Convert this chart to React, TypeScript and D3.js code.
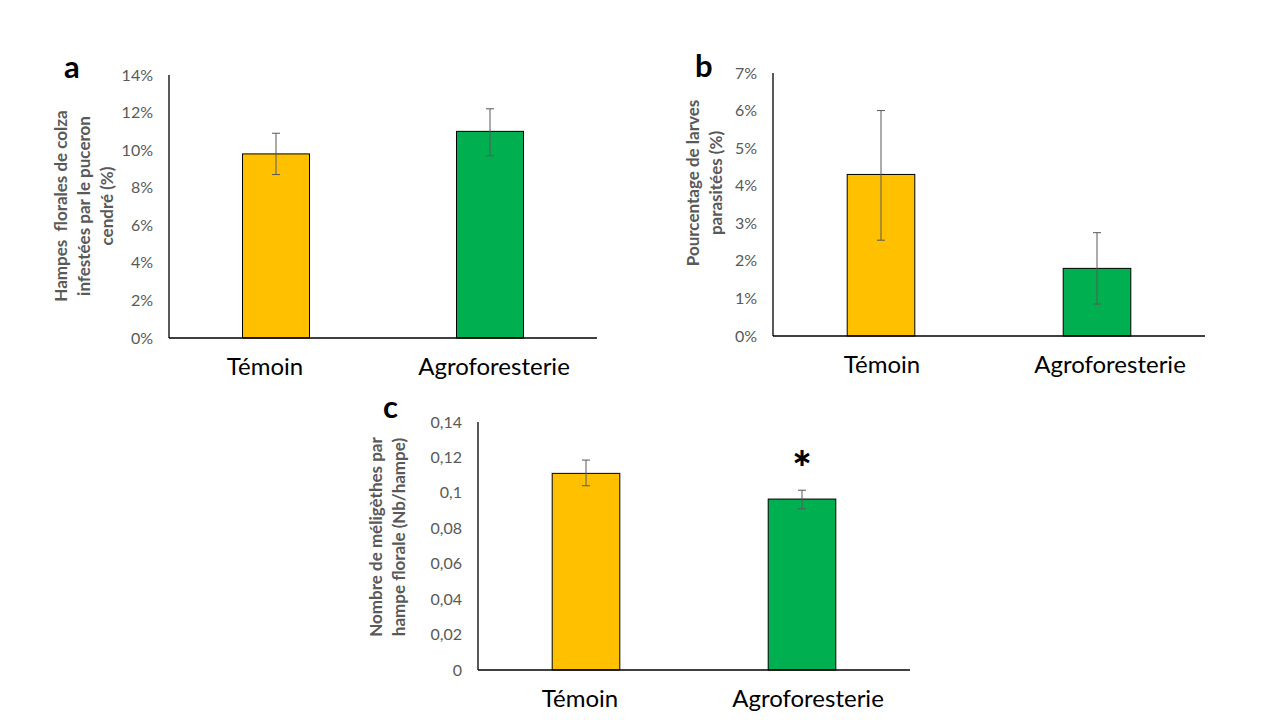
import React from "react";
import * as d3 from "d3";

const categories = ["Témoin", "Agroforesterie"];
const colors = ["#FFC000", "#00B050"];

const aValues = [0.098, 0.11];
const aLow = [0.087, 0.097];
const aHigh = [0.109, 0.122];
const aTicks = [0, 0.02, 0.04, 0.06, 0.08, 0.1, 0.12, 0.14];

const bValues = [0.043, 0.018];
const bLow = [0.0255, 0.0085];
const bHigh = [0.06, 0.0275];
const bTicks = [0, 0.01, 0.02, 0.03, 0.04, 0.05, 0.06, 0.07];

const cValues = [0.111, 0.0965];
const cLow = [0.104, 0.091];
const cHigh = [0.1185, 0.1015];
const cTicks = [0, 0.02, 0.04, 0.06, 0.08, 0.1, 0.12, 0.14];

const FONT = "Lato, 'Open Sans', sans-serif";
const GRAY = "#595959";

type PanelProps = {
  letter: string;
  letterX: number;
  letterY: number;
  x0: number;
  x1: number;
  yTop: number;
  yBottom: number;
  max: number;
  ticks: number[];
  fmt: (v: number) => string;
  values: number[];
  low: number[];
  high: number[];
  titleLines: string[];
  titleX: number;
  titleY: number;
  labelShift: number[];
  star?: number;
};

function Panel(p: PanelProps) {
  const x = d3.scaleBand<string>().domain(categories).range([p.x0, p.x1]).paddingInner(0.687).paddingOuter(0.3435);
  const xc = d3.scaleBand<string>().domain(categories).range([p.x0, p.x1]);
  const y = d3.scaleLinear().domain([0, p.max]).range([p.yBottom, p.yTop]);
  const bw = x.bandwidth();
  return (
    <g>
      <text x={p.letterX} y={p.letterY} fontFamily={FONT} fontWeight="bold" fontSize={31} fill="#000">{p.letter}</text>
      {p.ticks.map((t) => (
        <text key={t} x={p.x0 - 16} y={y(t)} dy="0.35em" textAnchor="end" fontFamily={FONT} fontSize={16} fill={GRAY}>{p.fmt(t)}</text>
      ))}
      <g transform={`translate(${p.titleX},${p.titleY}) rotate(-90)`}>
        {p.titleLines.map((l, i) => (
          <text key={i} x={0} y={i * 23} textAnchor="middle" fontFamily={FONT} fontWeight="bold" fontSize={17} fill={GRAY} style={{ whiteSpace: "pre" }}>{l}</text>
        ))}
      </g>
      {categories.map((c, i) => (
        <rect key={c} x={x(c)!} y={y(p.values[i])} width={bw} height={p.yBottom - y(p.values[i])} fill={colors[i]} stroke="#000" strokeWidth={1} />
      ))}
      {categories.map((c, i) => {
        const cx = x(c)! + bw / 2;
        return (
          <g key={c} stroke={GRAY} strokeWidth={1}>
            <line x1={cx} x2={cx} y1={y(p.high[i])} y2={y(p.low[i])} />
            <line x1={cx - 4} x2={cx + 4} y1={y(p.high[i])} y2={y(p.high[i])} />
            <line x1={cx - 4} x2={cx + 4} y1={y(p.low[i])} y2={y(p.low[i])} />
          </g>
        );
      })}
      <line x1={p.x0} x2={p.x0} y1={p.yTop} y2={p.yBottom} stroke="#000" strokeWidth={1.3} />
      <line x1={p.x0} x2={p.x1} y1={p.yBottom} y2={p.yBottom} stroke="#000" strokeWidth={1.3} />
      {categories.map((c, i) => (
        <text key={c} x={xc(c)! + xc.bandwidth() / 2 + p.labelShift[i]} y={p.yBottom + 37} textAnchor="middle" fontFamily={FONT} fontSize={24} fill="#000">{c}</text>
      ))}
      {p.star !== undefined && (
        <text x={x(categories[p.star])! + bw / 2} y={y(p.high[p.star]) - 5} textAnchor="middle" fontFamily={FONT} fontWeight="900" fontSize={46} fill="#000">*</text>
      )}
    </g>
  );
}

export default function App() {
  const pct = (v: number) => `${Math.round(v * 100)}%`;
  const dec = (v: number) => (v === 0 ? "0" : String(+v.toFixed(2)).replace(".", ","));
  return (
    <svg width={1280} height={720} style={{ position: "absolute", left: 0, top: 0, background: "#fff" }}>
      <rect width={1280} height={720} fill="#fff" />
      <Panel letter="a" letterX={64} letterY={78} x0={169} x1={597} yTop={75} yBottom={338} max={0.14} ticks={aTicks} fmt={pct}
        values={aValues} low={aLow} high={aHigh} labelShift={[-11, 4]}
        titleLines={["Hampes  florales de colza", "infestées par le puceron", "cendré (%)"]} titleX={67} titleY={206} />
      <Panel letter="b" letterX={695} letterY={77} x0={773} x1={1205} yTop={73} yBottom={336} max={0.07} ticks={bTicks} fmt={pct}
        values={bValues} low={bLow} high={bHigh} labelShift={[1, 13]}
        titleLines={["Pourcentage de larves", "parasitées (%)"]} titleX={699} titleY={183} />
      <Panel letter="c" letterX={383} letterY={418} x0={478} x1={910} yTop={422} yBottom={670} max={0.14} ticks={cTicks} fmt={dec}
        values={cValues} low={cLow} high={cHigh} labelShift={[-6, 6]}
        titleLines={["Nombre de méligèthes par", "hampe florale (Nb/hampe)"]} titleX={382} titleY={537} star={1} />
    </svg>
  );
}
